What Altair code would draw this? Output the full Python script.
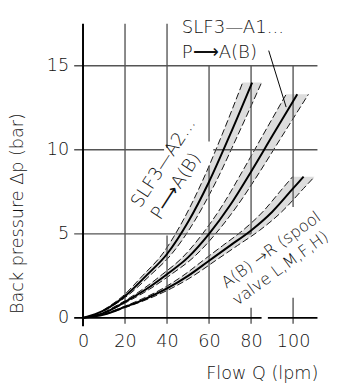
import altair as alt
import pandas as pd

FONT = "DejaVu Sans"
TXT = "#111111"
FW = 200

# ---- data ----
X_TICKS = [0, 20, 40, 60, 80, 100]
Y_TICKS = [0, 5, 10, 15]

# SLF3-A2... P->A(B)
c1_x = [0, 10, 20, 30, 40, 50, 60, 70, 80.5]
c1_y = [0, 0.45, 1.3, 2.5, 3.8, 5.7, 8.1, 10.9, 14.0]
c1_band_y = [0.45, 1.3, 2.5, 3.8, 5.7, 8.1, 10.9, 14.0]
c1_band_lo = [9.5, 19, 28.3, 37.8, 47.2, 56.7, 66.2, 76]
c1_band_hi = [10.5, 21, 31.7, 42.2, 52.8, 63.3, 73.8, 85]

# SLF3-A1... P->A(B)
c2_x = [0, 10, 20, 30, 40, 50, 60, 70, 80, 90, 102]
c2_y = [0, 0.3, 0.95, 1.7, 2.6, 3.6, 5.0, 6.7, 8.7, 10.8, 13.3]
c2_band_y = [0.3, 0.95, 1.7, 2.6, 3.6, 5.0, 6.7, 8.7, 10.8, 13.3]
c2_band_lo = [9.5, 19, 28.4, 37.9, 47.4, 56.9, 66.4, 75.8, 85.3, 96.7]
c2_band_hi = [10.5, 21, 31.6, 42.1, 52.6, 63.1, 73.6, 84.2, 94.7, 107.3]

# A(B)->R (spool valve L,M,F,H)
c3_x = [0, 10, 20, 30, 40, 50, 60, 70, 80, 90, 100, 105]
c3_y = [0, 0.2, 0.65, 1.15, 1.75, 2.5, 3.4, 4.3, 5.2, 6.3, 7.7, 8.4]
c3_band_y = [0.2, 0.65, 1.15, 1.75, 2.5, 3.4, 4.3, 5.2, 6.3, 7.7, 8.4]
c3_band_lo = [9.5, 19, 28.5, 38, 47.5, 57, 66.5, 76, 85.5, 95, 99.8]
c3_band_hi = [10.5, 21, 31.5, 42, 52.5, 63, 73.5, 84, 94.5, 105, 110.2]

# grid segments (vertical: x, y-from, y-to ; horizontal: y, x-from, x-to)
vgrid_x = [20, 40, 40, 60, 60, 80, 80, 100, 100]
vgrid_y1 = [-0.35, -0.35, 10.1, -0.35, 10.5, -0.35, 5.0, -0.35, 6.6]
vgrid_y2 = [17.5, 4.9, 17.5, 9.05, 15.0, 0.6, 15.0, 1.2, 15.0]
hgrid_y = [5, 10, 10, 15]
hgrid_x1 = [-4.2, -4.2, 62, -4.2]
hgrid_x2 = [80, 38.6, 111.6, 111.6]
vaxis_x = [0]
vaxis_y1 = [-0.5]
vaxis_y2 = [17.5]
haxis_y = [0, 0]
haxis_x1 = [-4.2, 88]
haxis_x2 = [85, 111.6]

# annotations
top_text = ["SLF3\u2014A1...", "P\u27f6A(B)"]
top_x = [47, 47]
top_y = [16.94, 15.45]
a2_text = ["SLF3\u2014A2...", "P\u27f6A(B)"]
a2_x = [40.5, 46.5]
a2_y = [9.05, 7.66]
r_text = ["A(B) \u2192R (spool", "valve  L,M,F,H)"]
r_x = [91.0, 95.4]
r_y = [3.8, 2.7]
leader_x = [88.4, 96.7]
leader_y = [15.9, 12.54]

# ---- tables ----
curves = pd.concat([
    pd.DataFrame({"curve": "A2", "x": c1_x, "y": c1_y}),
    pd.DataFrame({"curve": "A1", "x": c2_x, "y": c2_y}),
    pd.DataFrame({"curve": "R", "x": c3_x, "y": c3_y}),
])
bands = pd.concat([
    pd.DataFrame({"curve": "A2", "y": c1_band_y, "lo": c1_band_lo, "hi": c1_band_hi}),
    pd.DataFrame({"curve": "A1", "y": c2_band_y, "lo": c2_band_lo, "hi": c2_band_hi}),
    pd.DataFrame({"curve": "R", "y": c3_band_y, "lo": c3_band_lo, "hi": c3_band_hi}),
])
edges = pd.concat([
    bands[["curve", "y", "lo"]].rename(columns={"lo": "x"}).assign(edge="lo"),
    bands[["curve", "y", "hi"]].rename(columns={"hi": "x"}).assign(edge="hi"),
])
edges["key"] = edges["curve"] + edges["edge"]

vgrid = pd.DataFrame({"x": vgrid_x, "y1": vgrid_y1, "y2": vgrid_y2})
hgrid = pd.DataFrame({"y": hgrid_y, "x1": hgrid_x1, "x2": hgrid_x2})
vaxis = pd.DataFrame({"x": vaxis_x, "y1": vaxis_y1, "y2": vaxis_y2})
haxis = pd.DataFrame({"y": haxis_y, "x1": haxis_x1, "x2": haxis_x2})
leader = pd.DataFrame({"x": leader_x, "y": leader_y})
toptxt = pd.DataFrame({"x": top_x, "y": top_y, "t": top_text})
a2txt = pd.DataFrame({"x": a2_x, "y": a2_y, "t": a2_text})
rtxt = pd.DataFrame({"x": r_x, "y": r_y, "t": r_text})

# ---- scales / axes ----
xscale = alt.Scale(domain=[-5, 112], nice=False, zero=False)
yscale = alt.Scale(domain=[-0.6, 17.6], nice=False, zero=False)
xaxis = alt.Axis(values=X_TICKS, domain=False, ticks=False, tickSize=0, grid=False,
                 labelFontSize=18, labelFont=FONT, labelColor=TXT, labelPadding=5,
                 labelFontWeight=FW, labelFlush=False, labelOverlap=False,
                 title="Flow Q (lpm)", titleFontSize=18, titleFont=FONT,
                 titleFontWeight=FW, titleColor=TXT, titleX=251, titleY=52,
                 titleAlign="right", titleBaseline="alphabetic")
yaxis = alt.Axis(values=Y_TICKS, domain=False, ticks=False, tickSize=0, grid=False,
                 labelFontSize=18, labelFont=FONT, labelColor=TXT, labelPadding=4,
                 labelFontWeight=FW, labelFlush=False, labelOverlap=False,
                 title="Back pressure \u0394p (bar)", titleFontSize=18, titleFont=FONT,
                 titleFontWeight=FW, titleColor=TXT, titleX=-56, titleY=195.5,
                 titleAngle=270, titleAlign="center", titleBaseline="middle")


def X(f):
    return alt.X(f, type="quantitative", scale=xscale, axis=xaxis)


def Y(f):
    return alt.Y(f, type="quantitative", scale=yscale, axis=yaxis)


band_layer = alt.Chart(bands).mark_area(orient="horizontal", color="#dddddd",
                                        interpolate="monotone").encode(
    y=Y("y"), x=X("lo"), x2="hi", detail="curve:N")

edge_layer = alt.Chart(edges).mark_line(color="#111111", strokeWidth=1,
                                        strokeDash=[7, 3], interpolate="monotone").encode(
    x=X("x"), y=Y("y"), detail="key:N", order="y:Q")

vgrid_layer = alt.Chart(vgrid).mark_rule(color="#555555", strokeWidth=1.4).encode(
    x=X("x"), y=Y("y1"), y2="y2")
hgrid_layer = alt.Chart(hgrid).mark_rule(color="#555555", strokeWidth=1.4).encode(
    y=Y("y"), x=X("x1"), x2="x2")
vaxis_layer = alt.Chart(vaxis).mark_rule(color="#000000", strokeWidth=2).encode(
    x=X("x"), y=Y("y1"), y2="y2")
haxis_layer = alt.Chart(haxis).mark_rule(color="#000000", strokeWidth=2).encode(
    y=Y("y"), x=X("x1"), x2="x2")

curve_layer = alt.Chart(curves).mark_line(color="#000000", strokeWidth=2,
                                          interpolate="monotone").encode(
    x=X("x"), y=Y("y"), detail="curve:N")

leader_layer = alt.Chart(leader).mark_line(color="#000000", strokeWidth=1).encode(
    x=X("x"), y=Y("y"))

top_layer = alt.Chart(toptxt).mark_text(font=FONT, fontSize=18.5, color=TXT,
                                        fontWeight=FW,
                                        align="left", baseline="alphabetic").encode(
    x=X("x"), y=Y("y"), text="t:N")
a2_layer = alt.Chart(a2txt).mark_text(font=FONT, fontSize=18.5, color=TXT,
                                      fontWeight=FW,
                                      align="center", baseline="alphabetic",
                                      angle=303).encode(
    x=X("x"), y=Y("y"), text="t:N")
r_layer = alt.Chart(rtxt).mark_text(font=FONT, fontSize=16.5, color=TXT,
                                    fontWeight=FW,
                                    align="center", baseline="alphabetic",
                                    angle=324).encode(
    x=X("x"), y=Y("y"), text="t:N")

chart = alt.layer(
    band_layer, edge_layer, vgrid_layer, hgrid_layer, vaxis_layer, haxis_layer,
    curve_layer, leader_layer, top_layer, a2_layer, r_layer
).properties(
    width=251.5, height=313,
    autosize=alt.AutoSizeParams(type="none"),
    padding={"left": 66, "top": 10, "right": 13, "bottom": 54},
    background="white",
).configure_view(stroke=None)

chart.save("out.html", embed_options={"renderer": "svg", "actions": False})
